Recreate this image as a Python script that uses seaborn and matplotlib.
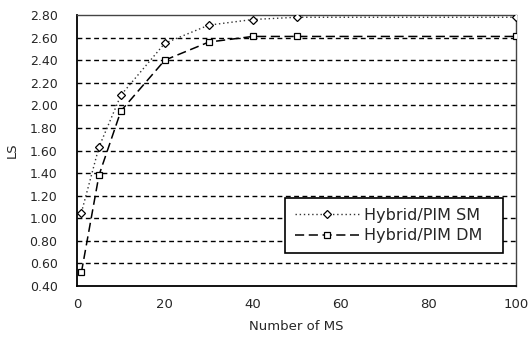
import matplotlib
matplotlib.use("Agg")
import matplotlib.pyplot as plt
import seaborn as sns
import pandas as pd
import numpy as np

# Data
num_ms = [1, 5, 10, 20, 30, 40, 50, 100]
ls_sm = [1.05, 1.63, 2.09, 2.55, 2.71, 2.76, 2.78, 2.78]
ls_dm = [0.52, 1.38, 1.95, 2.40, 2.56, 2.61, 2.61, 2.61]
series_names = ["Hybrid/PIM SM", "Hybrid/PIM DM"]
x_ticks = [0, 20, 40, 60, 80, 100]
y_ticks = [0.40, 0.60, 0.80, 1.00, 1.20, 1.40, 1.60, 1.80, 2.00, 2.20, 2.40, 2.60, 2.80]

sns.set_theme(style="white")
plt.rcParams["font.family"] = ["DejaVu Sans"]

df_sm = pd.DataFrame({"x": num_ms, "y": ls_sm})
df_dm = pd.DataFrame({"x": num_ms, "y": ls_dm})

fig = plt.figure(figsize=(5.3, 3.4), dpi=100)
ax = fig.add_axes([77/530, 1 - 286/340, (516-77)/530, (286-15)/340])

# horizontal dashed gridlines
for yv in y_ticks[1:-1]:
    ax.axhline(yv, color="black", lw=1.0, ls=(0, (3.5, 2.5)), zorder=1)

sns.lineplot(data=df_sm, x="x", y="y", ax=ax, color="#333333", lw=1.0,
             linestyle=(0, (1, 2)), marker="D", markersize=4.5,
             markerfacecolor="white", markeredgecolor="black",
             markeredgewidth=0.9, label=series_names[0], zorder=3)
sns.lineplot(data=df_dm, x="x", y="y", ax=ax, color="black", lw=1.1,
             linestyle=(0, (6, 3)), marker="s", markersize=5,
             markerfacecolor="white", markeredgecolor="black",
             markeredgewidth=0.9, label=series_names[1], zorder=3)

ax.set_xlim(0, 100)
ax.set_ylim(0.40, 2.80)
ax.set_xticks(x_ticks)
ax.set_xticklabels([str(v) for v in x_ticks], fontsize=9.5)
ax.set_yticks(y_ticks)
ax.set_yticklabels([f"{v:.2f}" for v in y_ticks], fontsize=9)
ax.tick_params(axis="x", direction="in", length=3, width=0.8, color="black", pad=9)
ax.tick_params(axis="y", length=0, pad=14)
ax.set_xlabel("Number of MS", fontsize=9.5, labelpad=6)
ax.set_ylabel("LS", fontsize=9.5, labelpad=8)

for side in ["left", "bottom"]:
    ax.spines[side].set_color("black")
    ax.spines[side].set_linewidth(1.3)
for side in ["top", "right"]:
    ax.spines[side].set_color("#444444")
    ax.spines[side].set_linewidth(1.0)
    ax.spines[side].set_linestyle((0, (1, 1)))

leg = ax.legend(loc="lower left", bbox_to_anchor=(0.474, 0.122, 0.496, 0.218),
                mode="expand", frameon=True, fancybox=False, fontsize=11.5,
                handlelength=4.0, handletextpad=0.35, borderpad=0.6,
                labelspacing=0.35, borderaxespad=0)
leg.get_frame().set_edgecolor("black")
leg.get_frame().set_linewidth(1.2)
leg.get_frame().set_facecolor("white")
leg.get_frame().set_alpha(1)

fig.savefig("out.png", dpi=100)
